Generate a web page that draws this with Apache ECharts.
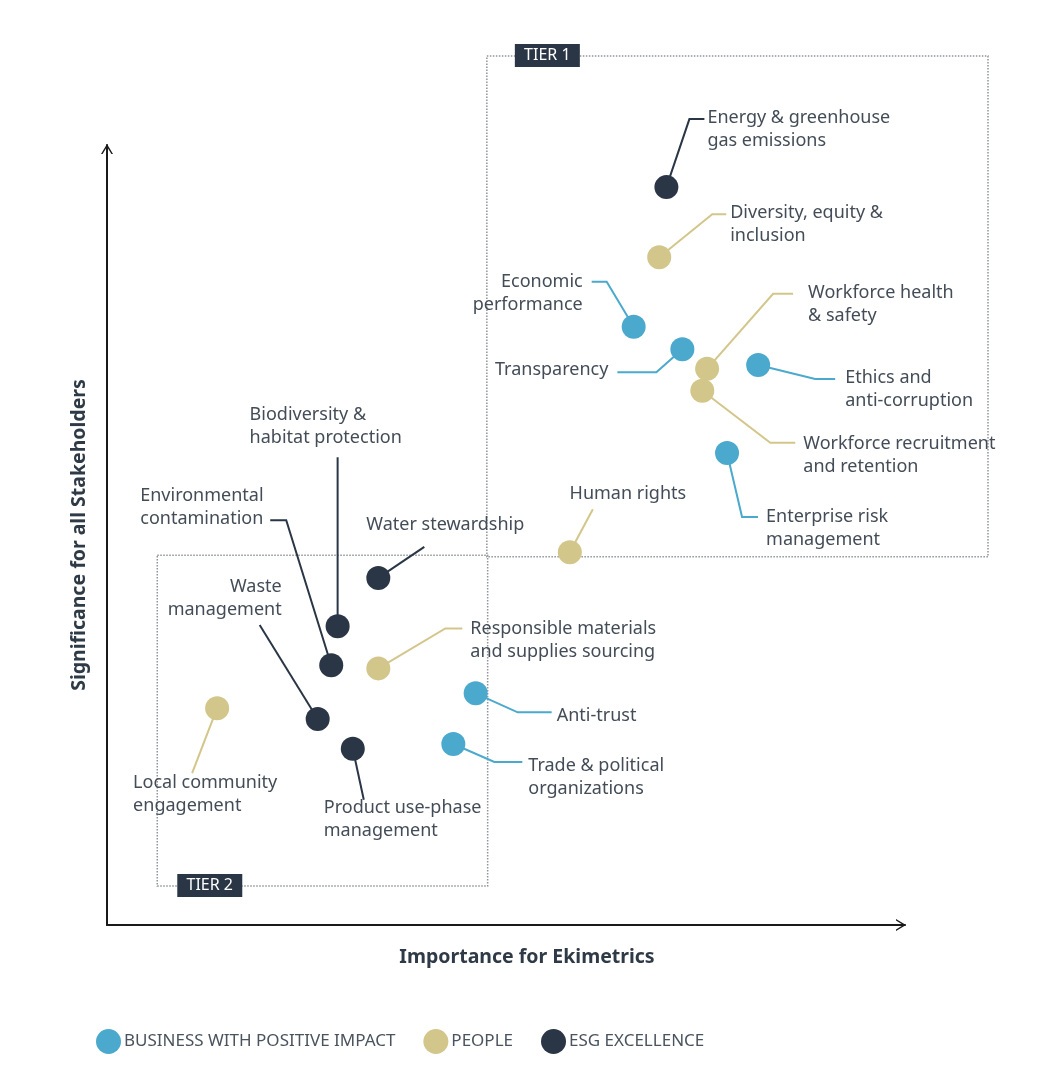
<!DOCTYPE html>
<html><head><meta charset="utf-8">
<script src="https://cdn.jsdelivr.net/npm/echarts@6/dist/echarts.min.js"></script>
<style>html,body{margin:0;padding:0;background:#fff}#c{width:1064px;height:1092px}</style>
</head><body><div id="c"></div>
<script>
// ---- data ----
const legendNames = ['BUSINESS WITH POSITIVE IMPACT', 'PEOPLE', 'ESG EXCELLENCE'];
const topicNames = [
  'Energy & greenhouse\ngas emissions',
  'Diversity, equity &\ninclusion',
  'Economic\nperformance',
  'Transparency',
  'Workforce health\n& safety',
  'Ethics and\nanti-corruption',
  'Workforce recruitment\nand retention',
  'Enterprise risk\nmanagement',
  'Human rights',
  'Water stewardship',
  'Biodiversity &\nhabitat protection',
  'Environmental\ncontamination',
  'Waste\nmanagement',
  'Responsible materials\nand supplies sourcing',
  'Anti-trust',
  'Trade & political\norganizations',
  'Local community\nengagement',
  'Product use-phase\nmanagement'
];
const topicGroup = [2, 1, 0, 0, 1, 0, 1, 0, 1, 2, 2, 2, 2, 1, 0, 0, 1, 2];
const importance = [70.1, 69.2, 66.0, 72.1, 75.2, 81.6, 74.6, 77.7, 58.0, 34.0, 28.9, 28.1, 26.4, 34.0, 46.2, 43.4, 13.8, 30.8];
const significance = [94.6, 85.6, 76.7, 73.8, 71.3, 71.8, 68.5, 60.5, 47.8, 44.5, 38.3, 33.3, 26.4, 32.9, 29.7, 23.2, 27.8, 22.6];
const tierNames = ['TIER 1', 'TIER 2'];
const tierX = [[47.6, 110.4], [6.3, 47.7]];
const tierY = [[47.2, 111.4], [5.0, 47.4]];

// ---- styles / layout ----
const colors = ['#4aa9cc', '#d3c68b', '#2a3645'];
const textColor = '#434c57';
const FONT = "'Noto Sans', sans-serif";
// label leader layout (pixel offsets from dot): [elbow dx,dy], [end dx,dy], [text dx, first-line dy], align
const labelLayout = [
  [[23, -68], [38, -68], [41, -69], 'left'],
  [[53, -43], [67, -43], [71, -44], 'left'],
  [[-27, -45], [-42, -45], [-51, -45], 'right'],
  [[-26, 23], [-65, 23], [-74, 21], 'right'],
  [[66, -75], [86, -75], [101, -76], 'left'],
  [[57, 14], [77, 14], [87, 13], 'left'],
  [[68, 52], [93, 52], [101, 53], 'left'],
  [[15, 64], [31, 64], [39, 64], 'left'],
  [[23, -43], [23, -43], [58, -58], 'center'],
  [[46, -31], [46, -31], [67, -53], 'center'],
  [[0, -169], [0, -169], [-88, -211], 'left'],
  [[-45, -145], [-61, -145], [-191, -169], 'left'],
  [[-58, -94], [-58, -94], [-36, -132], 'right'],
  [[67, -40], [84, -40], [92, -40], 'left'],
  [[42, 19], [76, 19], [81, 23], 'left'],
  [[41, 18], [69, 18], [75, 22], 'left'],
  [[-25, 65], [-25, 65], [-84, 75], 'left'],
  [[11, 51], [11, 51], [-29, 59], 'left']
];
const LH = 23;

const chart = echarts.init(document.getElementById('c'), null, {renderer: 'canvas'});
const chevron = 'path://M0,10 L6,0 L12,10 L10.4,10 L6,2.8 L1.6,10 Z';

const series = legendNames.map((ln, g) => ({
  name: ln,
  type: 'scatter',
  symbol: 'circle',
  symbolSize: 24,
  itemStyle: {color: colors[g], opacity: 1},
  z: 5,
  data: topicNames.map((n, i) => i).filter(i => topicGroup[i] === g)
    .map(i => ({name: topicNames[i], value: [importance[i], significance[i]]}))
}));

chart.setOption({
  animation: false,
  backgroundColor: '#fff',
  grid: {left: 107, top: 145, width: 798, height: 780, containLabel: false},
  xAxis: {
    type: 'value', min: 0, max: 100,
    name: 'Importance for Ekimetrics', nameLocation: 'middle', nameGap: 22,
    nameTextStyle: {fontFamily: FONT, fontWeight: 'bold', fontSize: 19.5, color: '#2f3a47', padding: [0, 0, 0, 42], verticalAlign: 'top'},
    axisLine: {show: true, lineStyle: {color: '#1a1a1a', width: 2}, symbol: ['none', chevron], symbolSize: [13, 10], symbolOffset: [0, -4]},
    axisTick: {show: false}, axisLabel: {show: false}, splitLine: {show: false}
  },
  yAxis: {
    type: 'value', min: 0, max: 100,
    name: 'Significance for all Stakeholders', nameLocation: 'middle', nameGap: 18,
    nameTextStyle: {fontFamily: FONT, fontWeight: 'bold', fontSize: 19.5, color: '#2f3a47', padding: [0, 0, 0, 0]},
    axisLine: {show: true, lineStyle: {color: '#1a1a1a', width: 2}, symbol: ['none', chevron], symbolSize: [13, 10], symbolOffset: [0, -4]},
    axisTick: {show: false}, axisLabel: {show: false}, splitLine: {show: false}
  },
  legend: {
    left: 91, top: 1024, icon: 'circle', itemWidth: 25, itemHeight: 25, itemGap: 28,
    textStyle: {fontFamily: FONT, fontSize: 17, color: '#4a535e', padding: [0, 0, 0, -2]},
    data: legendNames
  },
  tooltip: {show: false},
  series: series
});

// ---- annotations built from library pixel conversion ----
const els = [];
tierNames.forEach((t, k) => {
  const p0 = chart.convertToPixel({gridIndex: 0}, [tierX[k][0], tierY[k][1]]);
  const p1 = chart.convertToPixel({gridIndex: 0}, [tierX[k][1], tierY[k][0]]);
  els.push({
    type: 'rect', z: 1, silent: true,
    shape: {x: p0[0], y: p0[1], width: p1[0] - p0[0], height: p1[1] - p0[1]},
    style: {fill: 'none', stroke: '#8e949b', lineWidth: 1.5, lineDash: [1.5, 1.5]}
  });
  const ly = k === 0 ? p0[1] : p1[1];
  const lx = k === 0 ? p0[0] + 28 : p0[0] + 20;
  els.push({
    type: 'rect', z: 2, silent: true,
    shape: {x: lx, y: ly - 12, width: 65, height: 23},
    style: {fill: '#2a3645'}
  });
  els.push({
    type: 'text', z: 3, silent: true,
    style: {text: t, x: lx + 32.5, y: ly - 0.5, align: 'center', verticalAlign: 'middle',
      font: "16px " + FONT, fill: '#ffffff'}
  });
});
topicNames.forEach((n, i) => {
  const p = chart.convertToPixel({gridIndex: 0}, [importance[i], significance[i]]);
  const L = labelLayout[i];
  const col = colors[topicGroup[i]];
  els.push({
    type: 'polyline', z: 1, silent: true,
    shape: {points: [[p[0], p[1]], [p[0] + L[0][0], p[1] + L[0][1]], [p[0] + L[1][0], p[1] + L[1][1]]]},
    style: {stroke: col, lineWidth: 2, fill: null}
  });
  els.push({
    type: 'text', z: 3, silent: true,
    style: {text: n, x: p[0] + L[2][0], y: p[1] + L[2][1] - LH / 2, align: L[3], verticalAlign: 'top',
      lineHeight: LH, font: "18px " + FONT, fill: textColor}
  });
});
chart.setOption({graphic: {elements: els}});
</script>
</body></html>
